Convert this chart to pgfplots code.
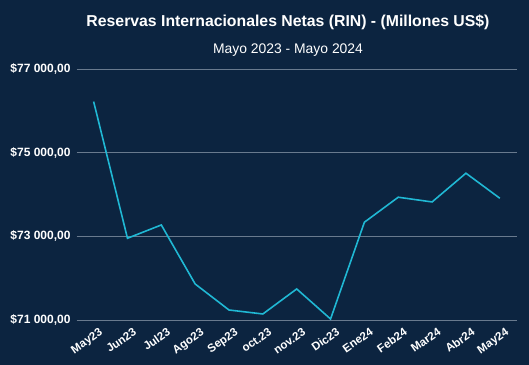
\documentclass[border=0pt]{standalone}
\usepackage{pgfplots}
\pgfplotsset{compat=1.18}
\usepackage{fontspec}
\setmainfont{Liberation Sans}
\definecolor{bg}{RGB}{12,36,64}
\definecolor{linec}{RGB}{32,184,212}
\definecolor{gridc}{RGB}{105,122,142}
\begin{document}
\begin{tikzpicture}
\fill[bg] (0,0) rectangle (529bp,365bp);
\useasboundingbox (0,0) rectangle (529bp,365bp);
\node[text=white,font=\fontsize{15.8bp}{17bp}\selectfont\bfseries] at (288bp,343bp) {Reservas Internacionales Netas (RIN) - (Millones US\$)};
\node[text=white,font=\fontsize{13.9bp}{15bp}\selectfont] at (288bp,315bp) {Mayo 2023 - Mayo 2024};
\begin{axis}[
  at={(76.7bp,45bp)}, anchor=south west,
  scale only axis, width=440bp, height=251bp,
  xmin=-0.5, xmax=12.5, ymin=71000, ymax=77000,
  axis line style={draw=none},
  major tick length=0pt,
  scaled ticks=false,
  ytick={71000,73000,75000,77000},
  yticklabels={{\$71 000,00},{\$73 000,00},{\$75 000,00},{\$77 000,00}},
  ymajorgrids, grid style={gridc, line width=0.6pt},
  xtick={0,...,12},
  xticklabels={May23,Jun23,Jul23,Ago23,Sep23,oct.23,nov.23,Dic23,Ene24,Feb24,Mar24,Abr24,May24},
  x tick label style={xshift=5bp, yshift=-7bp, rotate=35, anchor=north east, inner sep=0pt, font=\fontsize{11.5bp}{13bp}\selectfont\bfseries},
  y tick label style={inner sep=0pt, xshift=-6bp, font=\fontsize{12bp}{13bp}\selectfont\bfseries},
  tick label style={text=white},
  /pgf/number format/assume math mode=true,
  clip=false,
]
\addplot[linec, line width=1.6pt, no marks] coordinates {
(0,76222) (1,72954) (2,73272) (3,71861) (4,71239) (5,71144) (6,71742)
(7,71024) (8,73337) (9,73935) (10,73822) (11,74509) (12,73911)
};
\end{axis}
\end{tikzpicture}
\end{document}
